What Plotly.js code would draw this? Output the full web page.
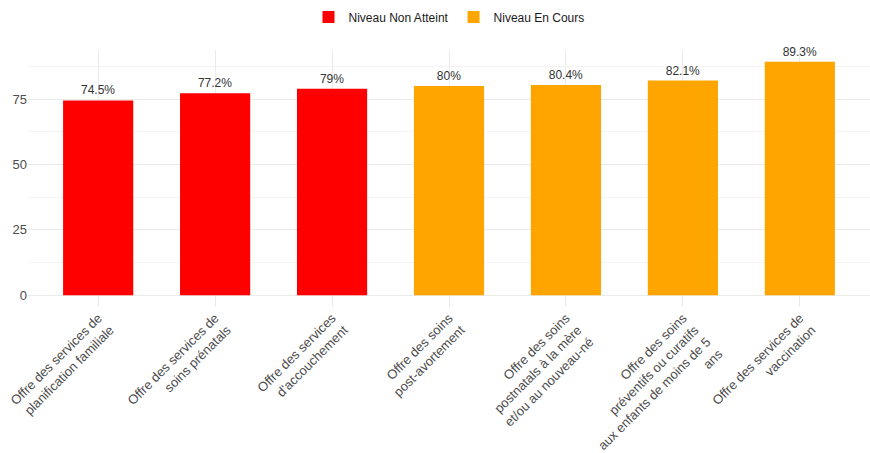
<!DOCTYPE html>
<html>
<head>
<meta charset="utf-8">
<script src="https://cdn.plot.ly/plotly-3.0.1.min.js"></script>
<style>html,body{margin:0;padding:0;background:#fff;}#chart{width:870px;height:453px;}</style>
</head>
<body>
<div id="chart"></div>
<script>
const categories = [
  "Offre des services de<br>planification familiale",
  "Offre des services de<br>soins prénatals",
  "Offre des services<br>d'accouchement",
  "Offre des soins<br>post-avortement",
  "Offre des soins<br>postnatals à la mère<br>et/ou au nouveau-né",
  "Offre des soins<br>préventifs ou curatifs<br>aux enfants de moins de 5<br>ans",
  "Offre des services de<br>vaccination"
];
const values = [74.5, 77.2, 79, 80, 80.4, 82.1, 89.3];
const levels = ["Niveau Non Atteint","Niveau Non Atteint","Niveau Non Atteint","Niveau En Cours","Niveau En Cours","Niveau En Cours","Niveau En Cours"];
const levelNames = ["Niveau Non Atteint", "Niveau En Cours"];
const levelColors = ["#FF0000", "#FFA500"];
const yTicks = [0, 25, 50, 75];

const traces = levelNames.map((name, k) => {
  const xs = [], ys = [], ts = [];
  categories.forEach((c, i) => {
    if (levels[i] === name) { xs.push(c); ys.push(values[i]); ts.push(values[i] + "%"); }
  });
  return {
    type: "bar", name: name, x: xs, y: ys, text: ts,
    textposition: "outside", cliponaxis: false,
    textfont: {size: 12, color: "#333333", family: "Liberation Sans, Arial, sans-serif"},
    marker: {color: levelColors[k], line: {width: 0}},
    width: 0.6
  };
});

const layout = {
  width: 870, height: 453,
  margin: {l: 28, r: 0, t: 50, b: 146},
  paper_bgcolor: "#fff", plot_bgcolor: "#fff",
  font: {family: "Liberation Sans, Arial, sans-serif", color: "#4D4D4D", size: 12},
  showlegend: true,
  legend: {orientation: "h", x: 0.5, xanchor: "center", y: 1.185, yanchor: "top",
           font: {size: 12, color: "#1a1a1a"}, itemwidth: 30, traceorder: "normal"},
  barmode: "overlay",
  xaxis: {
    type: "category", categoryorder: "array", categoryarray: categories,
    range: [-0.6, 6.6], tickangle: -45, showgrid: true, gridcolor: "#EBEBEB", gridwidth: 1,
    zeroline: false, showline: false, ticks: "", tickfont: {size: 13, color: "#4D4D4D"},
    automargin: false
  },
  yaxis: {
    range: [-4.47, 93.77], tickvals: yTicks, ticktext: yTicks.map(String),
    showgrid: true, gridcolor: "#EBEBEB", gridwidth: 1, zeroline: false, showline: false, ticks: "",
    tickfont: {size: 13, color: "#4D4D4D"}, automargin: false,
    minor: {tickvals: [12.5, 37.5, 62.5, 87.5], showgrid: true, gridcolor: "#F4F4F4", gridwidth: 1}
  }
};

Plotly.newPlot("chart", traces, layout, {displayModeBar: false, staticPlot: true});
</script>
</body>
</html>
